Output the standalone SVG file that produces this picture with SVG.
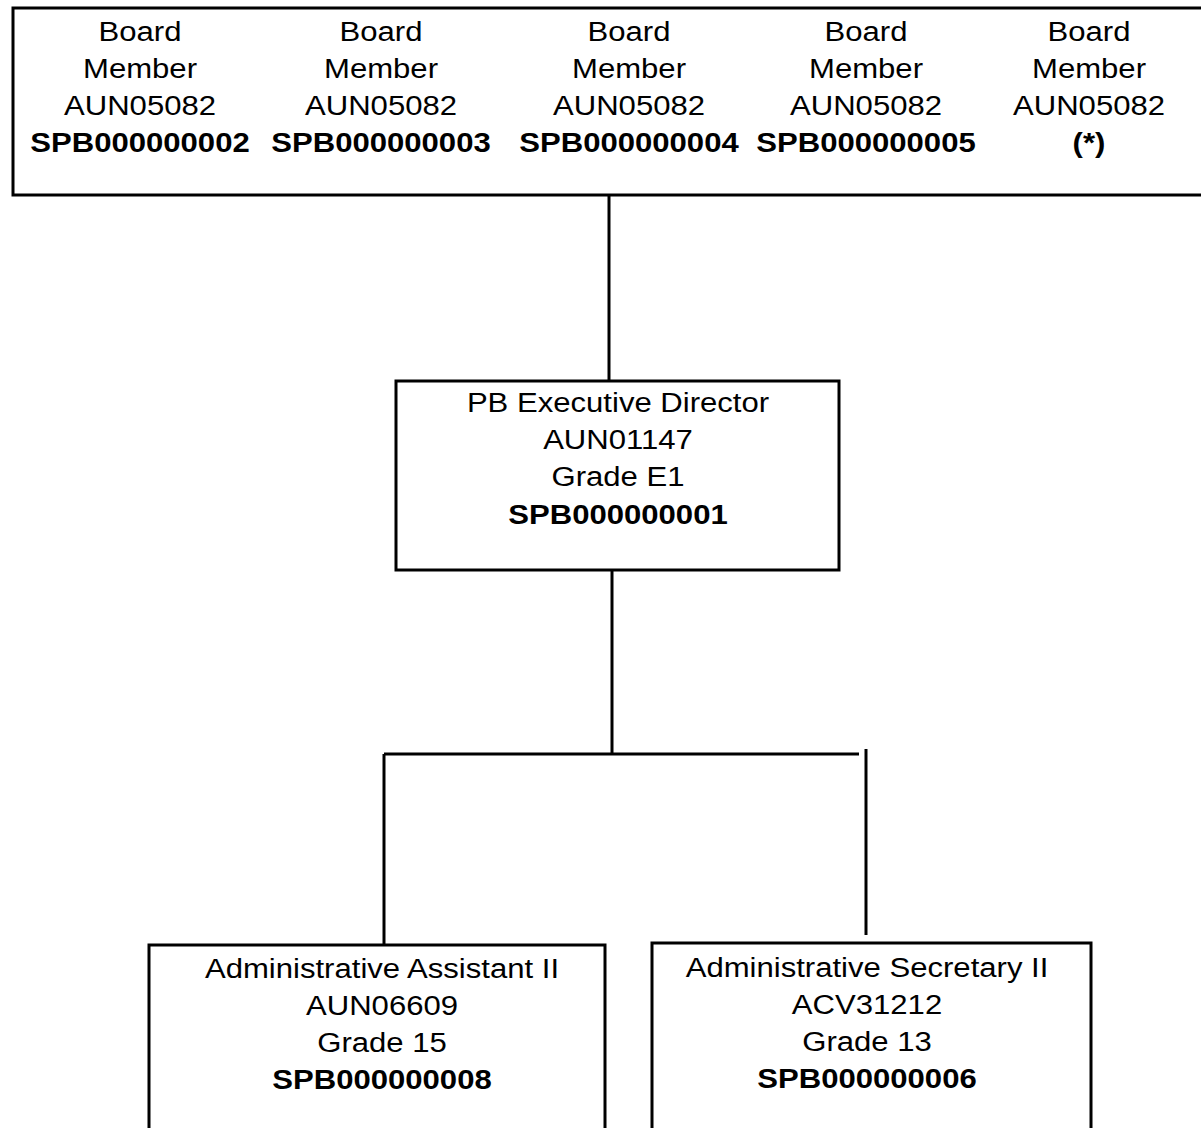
<svg xmlns="http://www.w3.org/2000/svg" width="1201" height="1128" viewBox="0 0 1201 1128">
<style>
.box{fill:#fff;stroke:#000;stroke-width:3}
.ln{stroke:#000;stroke-width:3;fill:none}
text{font-family:"Liberation Sans",Arial,sans-serif;font-size:28px;fill:#000;text-anchor:middle}
.b{font-weight:bold}
</style>
<rect width="1201" height="1128" fill="#fff"/>
<g id="connectors">
<line class="ln" x1="609" y1="196" x2="609" y2="381"/>
<line class="ln" x1="612" y1="570" x2="612" y2="754"/>
<line class="ln" x1="384" y1="754" x2="859" y2="754"/>
<line class="ln" x1="384" y1="754" x2="384" y2="945"/>
<line class="ln" x1="866" y1="749" x2="866" y2="935"/>
</g>
<g id="board">
<rect class="box" x="13" y="8" width="1200" height="187"/>
<g transform="translate(140,0) scale(1.11,1)"><text x="0" y="41">Board</text><text x="0" y="78">Member</text><text x="0" y="115">AUN05082</text><text class="b" x="0" y="152">SPB000000002</text></g>
<g transform="translate(381,0) scale(1.11,1)"><text x="0" y="41">Board</text><text x="0" y="78">Member</text><text x="0" y="115">AUN05082</text><text class="b" x="0" y="152">SPB000000003</text></g>
<g transform="translate(629,0) scale(1.11,1)"><text x="0" y="41">Board</text><text x="0" y="78">Member</text><text x="0" y="115">AUN05082</text><text class="b" x="0" y="152">SPB000000004</text></g>
<g transform="translate(866,0) scale(1.11,1)"><text x="0" y="41">Board</text><text x="0" y="78">Member</text><text x="0" y="115">AUN05082</text><text class="b" x="0" y="152">SPB000000005</text></g>
<g transform="translate(1089,0) scale(1.11,1)"><text x="0" y="41">Board</text><text x="0" y="78">Member</text><text x="0" y="115">AUN05082</text><text class="b" x="0" y="152">(*)</text></g>
</g>
<g id="director">
<rect class="box" x="396" y="381" width="443" height="189"/>
<g transform="translate(618,0) scale(1.11,1)"><text x="0" y="412">PB Executive Director</text><text x="0" y="449">AUN01147</text><text x="0" y="486">Grade E1</text><text class="b" x="0" y="524">SPB000000001</text></g>
</g>
<g id="admin-assistant">
<rect class="box" x="149" y="945" width="456" height="200"/>
<g transform="translate(382,0) scale(1.11,1)"><text x="0" y="978">Administrative Assistant II</text><text x="0" y="1015">AUN06609</text><text x="0" y="1052">Grade 15</text><text class="b" x="0" y="1089">SPB000000008</text></g>
</g>
<g id="admin-secretary">
<rect class="box" x="652" y="943" width="439" height="200"/>
<g transform="translate(867,0) scale(1.11,1)"><text x="0" y="977">Administrative Secretary II</text><text x="0" y="1014">ACV31212</text><text x="0" y="1051">Grade 13</text><text class="b" x="0" y="1088">SPB000000006</text></g>
</g>
</svg>
